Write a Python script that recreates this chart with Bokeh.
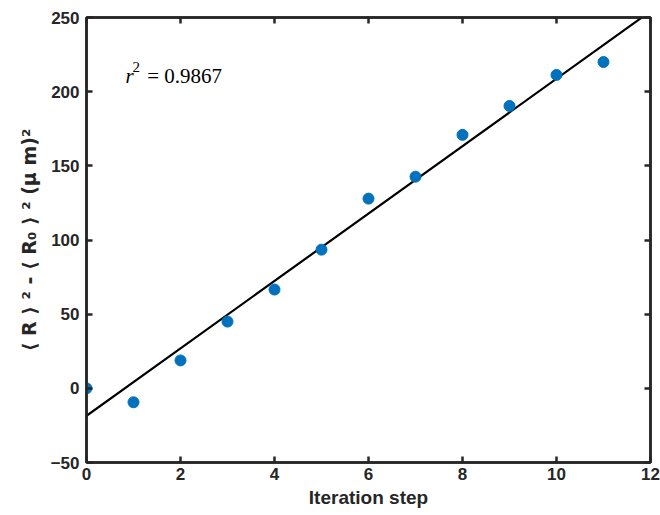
import numpy as np
from bokeh.plotting import figure
from bokeh.models import Range1d, FixedTicker, LinearAxis, Label, ColumnDataSource
from bokeh.embed import file_html
from bokeh.resources import INLINE

# data
iteration = [0, 1, 2, 3, 4, 5, 6, 7, 8, 9, 10, 11]
msd = [0.0, -9.4, 18.8, 45.0, 66.6, 93.5, 127.9, 142.7, 170.9, 190.4, 211.3, 220.0]
x_ticks = [0, 2, 4, 6, 8, 10, 12]
y_ticks = [-50, 0, 50, 100, 150, 200, 250]
r2_text = "= 0.9867"

# linear fit of the points, drawn over the full x range
slope, intercept = np.polyfit(iteration, msd, 1)
fit_x = [x_ticks[0], x_ticks[-1]]
fit_y = [intercept + slope * v for v in fit_x]

FONT = "Liberation Sans"
AX = "#262626"

p = figure(width=660, height=515, output_backend="svg", toolbar_location=None,
           x_range=Range1d(0, 12), y_range=Range1d(-50, 250),
           min_border_left=86, min_border_right=10, min_border_top=17, min_border_bottom=53)
p.background_fill_color = "white"
p.border_fill_color = "white"
p.grid.visible = False
p.outline_line_color = AX
p.outline_line_width = 2.5

def style_axis(ax, ticks, show_labels=True):
    ax.ticker = FixedTicker(ticks=ticks)
    ax.axis_line_color = AX
    ax.axis_line_width = 2.5
    ax.major_tick_line_color = AX
    ax.major_tick_line_width = 2.5
    ax.major_tick_in = 6
    ax.major_tick_out = 0
    ax.minor_tick_line_color = None
    ax.major_label_text_font = FONT
    ax.major_label_text_font_style = "bold"
    ax.major_label_text_font_size = "17px" if show_labels else "0px"
    ax.major_label_text_color = AX if show_labels else None
    ax.axis_label_text_font = FONT
    ax.axis_label_text_font_style = "bold"
    ax.axis_label_text_font_size = "19px"
    ax.axis_label_text_color = AX

style_axis(p.xaxis[0], x_ticks)
style_axis(p.yaxis[0], y_ticks)
p.xaxis[0].major_label_standoff = 5
p.yaxis[0].major_label_standoff = 7
p.xaxis[0].axis_label = "Iteration step"
p.xaxis[0].axis_label_standoff = 4
p.yaxis[0].axis_label = "⟨ R ⟩ ² - ⟨ R₀ ⟩ ² (μ m)²"
p.yaxis[0].axis_label_text_font = "DejaVu Sans"
p.yaxis[0].axis_label_text_font_size = "19px"
p.yaxis[0].axis_label_standoff = 8

top = LinearAxis()
style_axis(top, x_ticks, show_labels=False)
top.major_label_standoff = 0
p.add_layout(top, "above")
right = LinearAxis()
style_axis(right, y_ticks, show_labels=False)
right.major_label_standoff = 0
p.add_layout(right, "right")

p.line(fit_x, fit_y, line_color="black", line_width=2.2)
src = ColumnDataSource(dict(x=iteration, y=msd))
p.scatter("x", "y", source=src, size=11, fill_color="#0072BD", line_color="#0072BD")

p.add_layout(Label(x=0.83, y=210.6, text="r", text_font="Liberation Serif",
                   text_font_style="italic", text_font_size="21px", text_color="black",
                   text_baseline="alphabetic"))
p.add_layout(Label(x=0.98, y=216.5, text="2", text_font="Liberation Serif",
                   text_font_size="15px", text_color="black", text_baseline="alphabetic"))
p.add_layout(Label(x=1.29, y=210.6, text=r2_text, text_font="Liberation Serif",
                   text_font_size="21px", text_color="black", text_baseline="alphabetic"))

open("out.html", "w").write(file_html(p, INLINE))
